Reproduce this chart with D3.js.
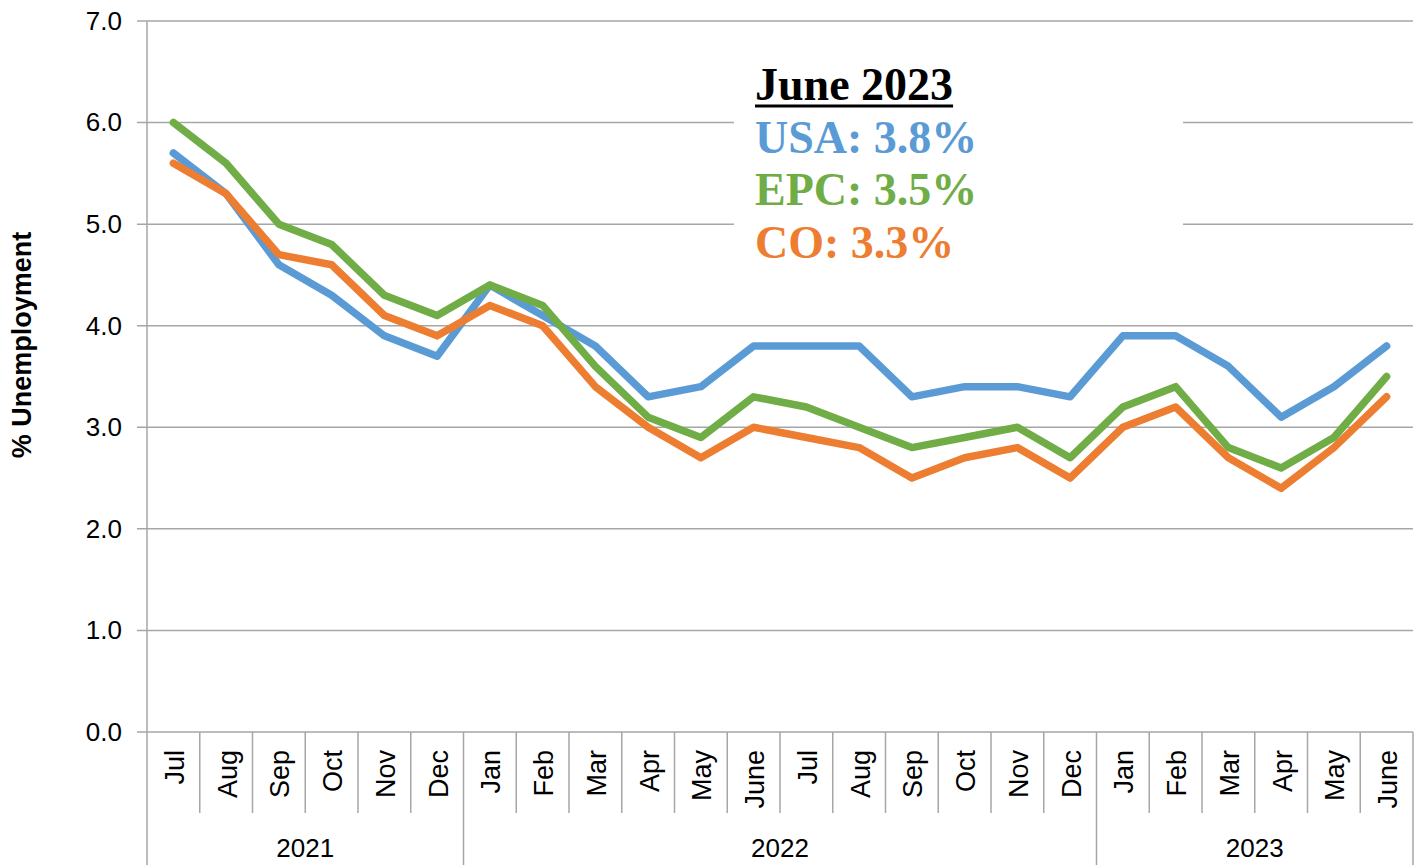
<!DOCTYPE html>
<html lang="en">
<head>
  <meta charset="UTF-8" />
  <title>% Unemployment</title>
  <script src="https://d3js.org/d3.v7.min.js"></script>
  <style>
    body { margin: 0; background: #fff; font-family: Arial, "Liberation Sans", sans-serif; }
    .grid line { stroke: #a6a6a6; stroke-width: 1.5; }
    .sep { stroke: #a6a6a6; stroke-width: 1.5; }
    .tick-label { font-size: 26px; fill: #000; }
    .month-label { font-size: 27px; fill: #000; }
    .note { font-family: "Times New Roman", "Liberation Serif", serif; font-weight: bold; font-size: 46px; }
  </style>
</head>
<body>
  <svg id="chart" width="1421" height="865"></svg>

  <script>
    const months = ["Jul", "Aug", "Sep", "Oct", "Nov", "Dec",
      "Jan", "Feb", "Mar", "Apr", "May", "June", "Jul", "Aug", "Sep", "Oct", "Nov", "Dec",
      "Jan", "Feb", "Mar", "Apr", "May", "June"];
    const years = [
      { label: "2021", start: 0, end: 6 },
      { label: "2022", start: 6, end: 18 },
      { label: "2023", start: 18, end: 24 }
    ];
    const usa = [5.7, 5.3, 4.6, 4.3, 3.9, 3.7, 4.4, 4.1, 3.8, 3.3, 3.4, 3.8, 3.8, 3.8, 3.3, 3.4, 3.4, 3.3, 3.9, 3.9, 3.6, 3.1, 3.4, 3.8];
    const epc = [6.0, 5.6, 5.0, 4.8, 4.3, 4.1, 4.4, 4.2, 3.6, 3.1, 2.9, 3.3, 3.2, 3.0, 2.8, 2.9, 3.0, 2.7, 3.2, 3.4, 2.8, 2.6, 2.9, 3.5];
    const co = [5.6, 5.3, 4.7, 4.6, 4.1, 3.9, 4.2, 4.0, 3.4, 3.0, 2.7, 3.0, 2.9, 2.8, 2.5, 2.7, 2.8, 2.5, 3.0, 3.2, 2.7, 2.4, 2.8, 3.3];
    const yTicks = [0, 1, 2, 3, 4, 5, 6, 7];
    const noteLines = [
      { text: "June 2023", color: "#000000" },
      { text: "USA: 3.8%", color: "#5b9bd5" },
      { text: "EPC: 3.5%", color: "#70ad47" },
      { text: "CO: 3.3%", color: "#ed7d31" }
    ];
    // drawing order: blue, orange, green
    const series = [
      { name: "USA", values: usa, color: "#5b9bd5" },
      { name: "CO", values: co, color: "#ed7d31" },
      { name: "EPC", values: epc, color: "#70ad47" }
    ];

    const svg = d3.select("#chart");
    const plotL = 147, plotR = 1413, plotT = 21, plotB = 732;

    const x = d3.scaleBand().domain(d3.range(months.length)).range([plotL, plotR]).padding(0);
    const y = d3.scaleLinear().domain([0, 7]).range([plotB, plotT]);

    // gridlines
    svg.append("g").attr("class", "grid")
      .selectAll("line")
      .data(yTicks)
      .join("line")
      .attr("x1", plotL - 10)
      .attr("x2", plotR)
      .attr("y1", d => y(d))
      .attr("y2", d => y(d));

    // y axis
    const yAxis = svg.append("g")
      .attr("transform", `translate(${plotL},0)`)
      .call(d3.axisLeft(y).tickValues(yTicks).tickSize(0).tickPadding(25).tickFormat(d3.format(".1f")));
    yAxis.select(".domain").remove();
    yAxis.selectAll("text").attr("class", "tick-label").attr("font-size", null).attr("font-family", null);

    // axis title
    svg.append("text")
      .attr("transform", "translate(31,345) rotate(-90)")
      .attr("text-anchor", "middle")
      .attr("font-weight", "bold")
      .attr("font-size", 27)
      .text("% Unemployment");

    // white box behind annotation
    svg.append("rect")
      .attr("x", 734).attr("y", 58)
      .attr("width", 449).attr("height", 215)
      .attr("fill", "#fff");

    // category axis: month separators
    svg.append("g")
      .selectAll("line")
      .data(d3.range(months.length + 1))
      .join("line")
      .attr("class", "sep")
      .attr("x1", i => plotL + i * x.bandwidth())
      .attr("x2", i => plotL + i * x.bandwidth())
      .attr("y1", plotB)
      .attr("y2", i => years.some(g => g.start === i || g.end === i) ? 865 : 813);

    svg.append("line").attr("class", "sep")
      .attr("x1", plotL).attr("x2", plotL).attr("y1", plotT).attr("y2", plotB);

    svg.append("g")
      .selectAll("text")
      .data(months)
      .join("text")
      .attr("class", "month-label")
      .attr("transform", (d, i) => `translate(${x(i) + x.bandwidth() / 2 + 1},750) rotate(-90)`)
      .attr("text-anchor", "end")
      .attr("dy", "0.35em")
      .text(d => d);

    svg.append("g")
      .selectAll("text")
      .data(years)
      .join("text")
      .attr("class", "tick-label")
      .attr("x", d => (x(d.start) + x(d.end - 1) + x.bandwidth()) / 2)
      .attr("y", 857)
      .attr("text-anchor", "middle")
      .text(d => d.label);

    // lines
    const line = d3.line()
      .x((d, i) => x(i) + x.bandwidth() / 2)
      .y(d => y(d));

    svg.append("g")
      .selectAll("path")
      .data(series)
      .join("path")
      .attr("fill", "none")
      .attr("stroke", d => d.color)
      .attr("stroke-width", 7.5)
      .attr("stroke-linejoin", "round")
      .attr("stroke-linecap", "round")
      .attr("d", d => line(d.values));

    // annotation
    const note = svg.append("g");
    note.selectAll("text")
      .data(noteLines)
      .join("text")
      .attr("class", "note")
      .attr("x", 755)
      .attr("y", (d, i) => 100 + i * 52.5)
      .attr("fill", d => d.color)
      .text(d => d.text);
    const head = note.select("text").node().getBBox();
    note.append("line")
      .attr("x1", head.x).attr("x2", head.x + head.width)
      .attr("y1", 106).attr("y2", 106)
      .attr("stroke", "#000").attr("stroke-width", 3);
  </script>
</body>
</html>
